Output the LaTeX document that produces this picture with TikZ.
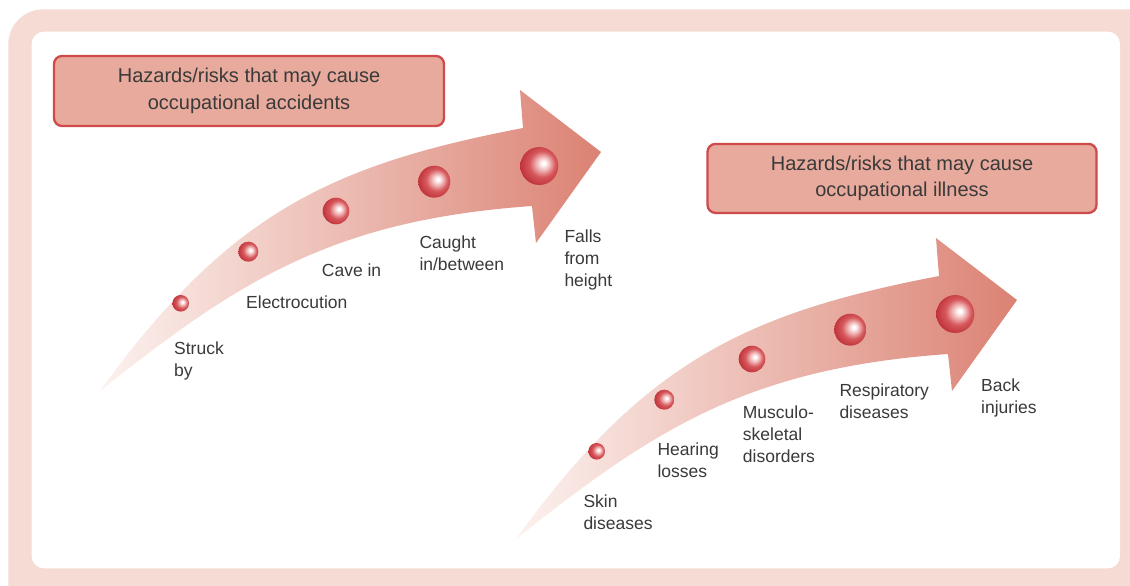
\documentclass[tikz,border=0pt]{standalone}
\usepackage{fontspec}
\setmainfont{Liberation Sans}
\definecolor{framepink}{HTML}{F6DAD4}
\definecolor{boxfill}{HTML}{E8AA9C}
\definecolor{boxdraw}{HTML}{CF4A4B}
\definecolor{txtgray}{HTML}{3A3A3A}
\definecolor{arrowL}{HTML}{FCF2EF}
\definecolor{arrowR}{HTML}{DB8273}
\definecolor{sphL}{RGB}{240,180,180}
\definecolor{sphM}{RGB}{214,88,92}
\definecolor{sphD}{RGB}{188,44,52}
\pgfdeclareradialshading{sphereshade}{\pgfqpoint{6bp}{4bp}}{color(0bp)=(white); color(2bp)=(white); color(9bp)=(sphL); color(17bp)=(sphM); color(30bp)=(sphD); color(50bp)=(sphD)}
\tikzset{
  sphere/.style={circle, shade, shading=sphereshade, inner sep=0pt},
  lbl/.style={anchor=north west, inner sep=0pt, align=left, text=txtgray,
    font=\fontsize{17.5}{22}\selectfont},
  hbox/.style={rounded corners=8pt, fill=boxfill, draw=boxdraw, line width=2.3pt,
    align=center, text=txtgray, inner sep=0pt, font=\fontsize{20}{26.7}\selectfont},
  arrowbody/.style={left color=arrowL, right color=arrowR, draw=none},
}
\begin{document}
\begin{tikzpicture}[x=1pt,y=-1pt]
\useasboundingbox (0,0) rectangle (1130,586);
\clip (0,0) rectangle (1130,586);
% frame
\fill[framepink, rounded corners=35pt] (8.3,9.3) rectangle (1170,630);
\fill[white, rounded corners=12pt] (31.7,31.7) rectangle (1120,568.3);

% arrow 1
\path[arrowbody] (100,391) .. controls (228,214) and (330,165) .. (523,128)
  -- (520,90) -- (601,152) -- (536,243) -- (532,206)
  .. controls (335,220) and (240,279) .. (100,391) -- cycle;
\node[sphere, minimum size=16.6pt] (a1) at (180.7,303.3) {};
\node[sphere, minimum size=20pt] (a2) at (248.3,251.7) {};
\node[sphere, minimum size=26.6pt] (a3) at (336,211) {};
\node[sphere, minimum size=32pt] (a4) at (434.3,181.7) {};
\node[sphere, minimum size=38pt] (a5) at (539.3,166) {};

% arrow 2
\begin{scope}[shift={(416,148)}]
\path[arrowbody] (100,391) .. controls (228,214) and (330,165) .. (523,128)
  -- (520,90) -- (601,152) -- (536,243) -- (532,206)
  .. controls (335,220) and (240,279) .. (100,391) -- cycle;
\node[sphere, minimum size=16.6pt] (b1) at (180.7,303.3) {};
\node[sphere, minimum size=20pt] (b2) at (248.3,251.7) {};
\node[sphere, minimum size=26.6pt] (b3) at (336,211) {};
\node[sphere, minimum size=32pt] (b4) at (434.3,181.7) {};
\node[sphere, minimum size=38pt] (b5) at (539.3,166) {};
\end{scope}

% labels arrow 1
\node[lbl] (la1) at (174,341.7) {Struck\\by};
\node[lbl] (la2) at (246,295.7) {Electrocution};
\node[lbl] (la3) at (321.7,263.4) {Cave in};
\node[lbl] (la4) at (419.3,235.7) {Caught\\in/between};
\node[lbl] (la5) at (564.3,229.7) {Falls\\from\\height};

% labels arrow 2
\node[lbl] (lb1) at (583.3,495.1) {Skin\\diseases};
\node[lbl] (lb2) at (657.3,442.4) {Hearing\\losses};
\node[lbl] (lb3) at (742.7,405.7) {Musculo-\\skeletal\\disorders};
\node[lbl] (lb4) at (839.3,384.1) {Respiratory\\diseases};
\node[lbl] (lb5) at (981,379.1) {Back\\injuries};

% header boxes
\node[hbox, minimum width=390pt, minimum height=70pt] (h1) at (249,91)
  {Hazards/risks that may cause\\occupational accidents};
\node[hbox, minimum width=389pt, minimum height=69pt] (h2) at (902,178.4)
  {Hazards/risks that may cause\\occupational illness};
\end{tikzpicture}
\end{document}
